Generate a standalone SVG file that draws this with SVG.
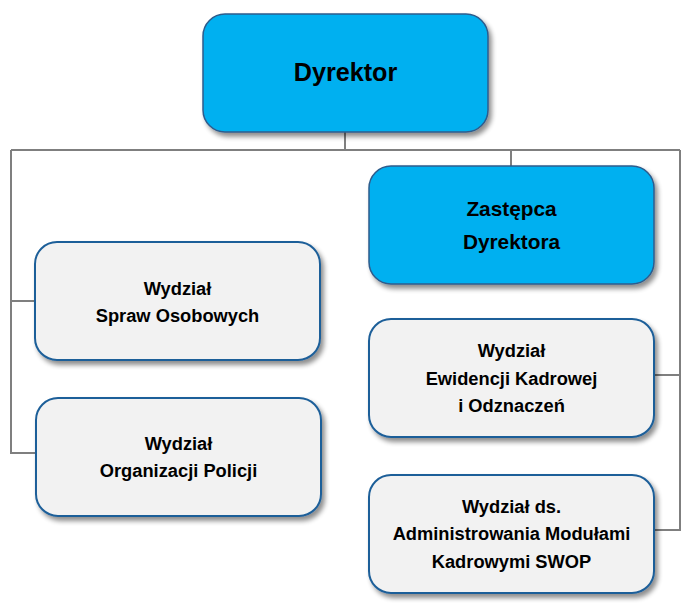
<svg xmlns="http://www.w3.org/2000/svg" width="690" height="609" viewBox="0 0 690 609">
<defs>
<filter id="sh" x="-10%" y="-10%" width="125%" height="130%">
<feGaussianBlur in="SourceAlpha" stdDeviation="2.5"/>
<feOffset dx="3" dy="4" result="b"/>
<feComponentTransfer><feFuncA type="linear" slope="0.45"/></feComponentTransfer>
<feMerge><feMergeNode/><feMergeNode in="SourceGraphic"/></feMerge>
</filter>
</defs>
<style>
.blue{fill:#00B0F0;stroke:#2E5C8C;stroke-width:1.5}
.grey{fill:#F2F2F2;stroke:#1E5F99;stroke-width:2}
.t{font-family:"Liberation Sans",Arial,sans-serif;font-weight:bold;fill:#000;text-anchor:middle}
.s{font-size:18.3px}
.conn{fill:none;stroke:#7F7F7F;stroke-width:2}
</style>
<rect width="690" height="609" fill="#fff"/>
<g id="connectors" class="conn">
<path d="M345,132 V150"/>
<path d="M11,150 H680"/>
<path d="M11,150 V453 H36"/>
<path d="M11,301 H35"/>
<path d="M511,150 V166"/>
<path d="M680,150 V530 H655"/>
<path d="M655,375 H680"/>
</g>
<g id="dyrektor">
<rect x="203" y="14" width="285" height="118" rx="22" class="blue" filter="url(#sh)"/>
<text x="345.5" y="81" class="t" font-size="25.2">Dyrektor</text>
</g>
<g id="zastepca">
<rect x="369" y="166" width="285" height="118" rx="22" class="blue" filter="url(#sh)"/>
<text x="511.5" y="216" class="t" font-size="20.8">Zastępca</text>
<text x="511.5" y="249" class="t" font-size="20.8">Dyrektora</text>
</g>
<g id="spraw-osobowych">
<rect x="35" y="242" width="285" height="118" rx="22" class="grey" filter="url(#sh)"/>
<text x="177.5" y="295" class="t s">Wydział</text>
<text x="177.5" y="322" class="t s">Spraw Osobowych</text>
</g>
<g id="organizacji-policji">
<rect x="36" y="398" width="285" height="118" rx="22" class="grey" filter="url(#sh)"/>
<text x="178.5" y="450" class="t s">Wydział</text>
<text x="178.5" y="477" class="t s">Organizacji Policji</text>
</g>
<g id="ewidencji">
<rect x="369" y="319" width="285" height="118" rx="22" class="grey" filter="url(#sh)"/>
<text x="511.5" y="357" class="t s">Wydział</text>
<text x="511.5" y="385" class="t s">Ewidencji Kadrowej</text>
<text x="511.5" y="412" class="t s">i Odznaczeń</text>
</g>
<g id="swop">
<rect x="369" y="475" width="285" height="118" rx="22" class="grey" filter="url(#sh)"/>
<text x="511.5" y="513" class="t s">Wydział ds.</text>
<text x="511.5" y="540" class="t s">Administrowania Modułami</text>
<text x="511.5" y="568" class="t s">Kadrowymi SWOP</text>
</g>
</svg>
